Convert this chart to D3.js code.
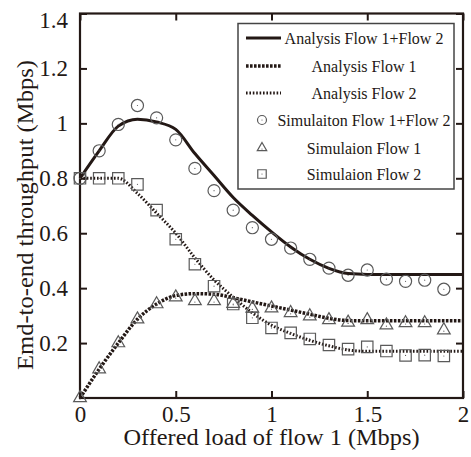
<!DOCTYPE html>
<html><head><meta charset="utf-8">
<script src="https://cdn.jsdelivr.net/npm/d3@7"></script>
<style>html,body{margin:0;padding:0;background:#fff;}svg{display:block;}</style>
</head><body>
<svg id="c" width="471" height="457"></svg>
<script>
const xSim = [0,0.1,0.2,0.3,0.4,0.5,0.6,0.7,0.8,0.9,1.0,1.1,1.2,1.3,1.4,1.5,1.6,1.7,1.8,1.9];
const simTotal = [0.80,0.90,0.996,1.065,1.02,0.94,0.836,0.755,0.684,0.62,0.578,0.546,0.505,0.473,0.447,0.466,0.433,0.425,0.429,0.396];
const simFlow1 = [0.0,0.105,0.2,0.287,0.342,0.367,0.353,0.353,0.343,0.326,0.327,0.31,0.298,0.284,0.275,0.284,0.265,0.273,0.273,0.247];
const simFlow2 = [0.80,0.80,0.80,0.778,0.684,0.578,0.487,0.407,0.342,0.292,0.255,0.237,0.215,0.193,0.178,0.186,0.171,0.155,0.156,0.153];

const xAna = [0,0.1,0.2,0.3,0.4,0.5,0.6,0.7,0.8,0.9,1.0,1.1,1.2,1.3,1.4,1.5,1.6,1.7,1.8,1.9,2.0];
const anaTotal = [0.80,0.90,0.99,1.015,1.005,0.978,0.89,0.81,0.73,0.665,0.605,0.55,0.505,0.472,0.453,0.45,0.45,0.45,0.45,0.45,0.45];
const anaFlow1 = [0.0,0.105,0.2,0.287,0.342,0.373,0.38,0.378,0.365,0.35,0.335,0.32,0.305,0.29,0.282,0.281,0.281,0.281,0.281,0.281,0.281];
const anaFlow2 = [0.80,0.80,0.80,0.745,0.673,0.60,0.51,0.43,0.367,0.31,0.265,0.235,0.21,0.19,0.175,0.17,0.17,0.17,0.17,0.17,0.17];

const xTicks = [0,0.5,1,1.5,2];
const xTickLabels = ["0","0.5","1","1.5","2"];
const yTicks = [0.2,0.4,0.6,0.8,1,1.2,1.4];
const yTickLabels = ["0.2","0.4","0.6","0.8","1","1.2","1.4"];
const legendLabels = ["Analysis Flow 1+Flow 2","Analysis Flow 1","Analysis Flow 2","Simulaiton Flow 1+Flow 2","Simulaion Flow 1","Simulaion Flow 2"];
const xTitle = "Offered load of flow 1 (Mbps)";
const yTitle = "Emd-to-end throughput (Mbps)";

const ink = "#231815", mk = "#5a5a5a";
const font = "'Liberation Serif','Times New Roman',serif";
const svg = d3.select("#c");
const L=80,R=463,T=13.5,B=398;
const x = d3.scaleLinear().domain([0,2]).range([L,R]);
const y = d3.scaleLinear().domain([0,1.4]).range([B,T]);

const tl = 7;
const gB = svg.append("g").attr("transform",`translate(0,${B})`)
  .call(d3.axisBottom(x).tickValues(xTicks).tickSizeInner(-tl).tickSizeOuter(0).tickPadding(10).tickFormat((d,i)=>xTickLabels[i]));
const gT = svg.append("g").attr("transform",`translate(0,${T})`)
  .call(d3.axisTop(x).tickValues(xTicks).tickSizeInner(-tl).tickSizeOuter(0).tickFormat(""));
const gL = svg.append("g").attr("transform",`translate(${L},0)`)
  .call(d3.axisLeft(y).tickValues(yTicks).tickSizeInner(-tl).tickSizeOuter(0).tickPadding(12).tickFormat((d,i)=>yTickLabels[i]));
const gR = svg.append("g").attr("transform",`translate(${R},0)`)
  .call(d3.axisRight(y).tickValues(yTicks).tickSizeInner(-tl).tickSizeOuter(0).tickFormat(""));
[gB,gT,gL,gR].forEach(g=>{
  g.attr("font-family",font);
  g.select(".domain").remove();
  g.selectAll(".tick line").attr("stroke",ink).attr("stroke-width",2);
  g.selectAll("text").attr("font-family",font).attr("font-size",23).attr("fill",ink);
});
gB.selectAll(".tick text").attr("dy","0.6em");
gL.selectAll(".tick text").filter(d=>d===1.4).attr("dy","0.6em");

svg.append("rect").attr("x",L).attr("y",T).attr("width",R-L).attr("height",B-T)
  .attr("fill","none").attr("stroke",ink).attr("stroke-width",2.2);

svg.append("text").attr("x",(L+R)/2).attr("y",445).attr("text-anchor","middle")
  .attr("font-family",font).attr("font-size",23).attr("fill",ink)
  .attr("textLength",296).attr("lengthAdjust","spacingAndGlyphs").text(xTitle);
svg.append("text").attr("transform","translate(33,215) rotate(-90)").attr("text-anchor","middle")
  .attr("font-family",font).attr("font-size",23).attr("fill",ink)
  .attr("textLength",310).attr("lengthAdjust","spacingAndGlyphs").text(yTitle);

const styles = [
  {w:3, dash:null},
  {w:3.5, dash:"2.6,1.4"},
  {w:3, dash:"1.6,1.8"}
];
const line = d3.line().x(d=>x(d[0])).y(d=>y(d[1])).curve(d3.curveMonotoneX);
[anaTotal,anaFlow1,anaFlow2].forEach((arr,i)=>{
  svg.append("path").datum(xAna.map((v,j)=>[v,arr[j]])).attr("d",line)
    .attr("fill","none").attr("stroke",ink).attr("stroke-width",styles[i].w)
    .attr("stroke-dasharray",styles[i].dash);
});

const sym = [d3.symbolCircle, d3.symbolTriangle, d3.symbolSquare];
const sizes = [115, 70, 130];
function drawMarker(g, k, cx, cy, s){
  g.append("path").attr("d",d3.symbol().type(sym[k]).size(sizes[k]*s)())
   .attr("transform",`translate(${cx},${cy})`).attr("fill","none").attr("stroke",mk).attr("stroke-width",1.2);
  g.append("circle").attr("cx",cx).attr("cy",cy+(k===1?1:0)).attr("r",0.6).attr("fill",mk);
}
const gm = svg.append("g");
[simTotal,simFlow1,simFlow2].forEach((arr,k)=>{
  arr.forEach((v,j)=>drawMarker(gm,k,x(xSim[j]),y(v),1));
});

const lg = svg.append("g");
lg.append("rect").attr("x",238).attr("y",23.5).attr("width",216).attr("height",165.5)
  .attr("fill","#fff").attr("stroke","#444").attr("stroke-width",1.5);
const rows = [38,66,93,120,148,174];
legendLabels.forEach((t,i)=>{
  const ry = rows[i];
  if(i<3){
    lg.append("line").attr("x1",246).attr("x2",281).attr("y1",ry).attr("y2",ry)
      .attr("stroke",ink).attr("stroke-width",styles[i].w).attr("stroke-dasharray",styles[i].dash);
  } else {
    drawMarker(lg,i-3,262,ry,0.55);
  }
  lg.append("text").attr("x",364).attr("y",ry).attr("dy","0.35em").attr("text-anchor","middle")
    .attr("font-family",font).attr("font-size",16).attr("fill",ink).text(t);
});
</script>
</body></html>
